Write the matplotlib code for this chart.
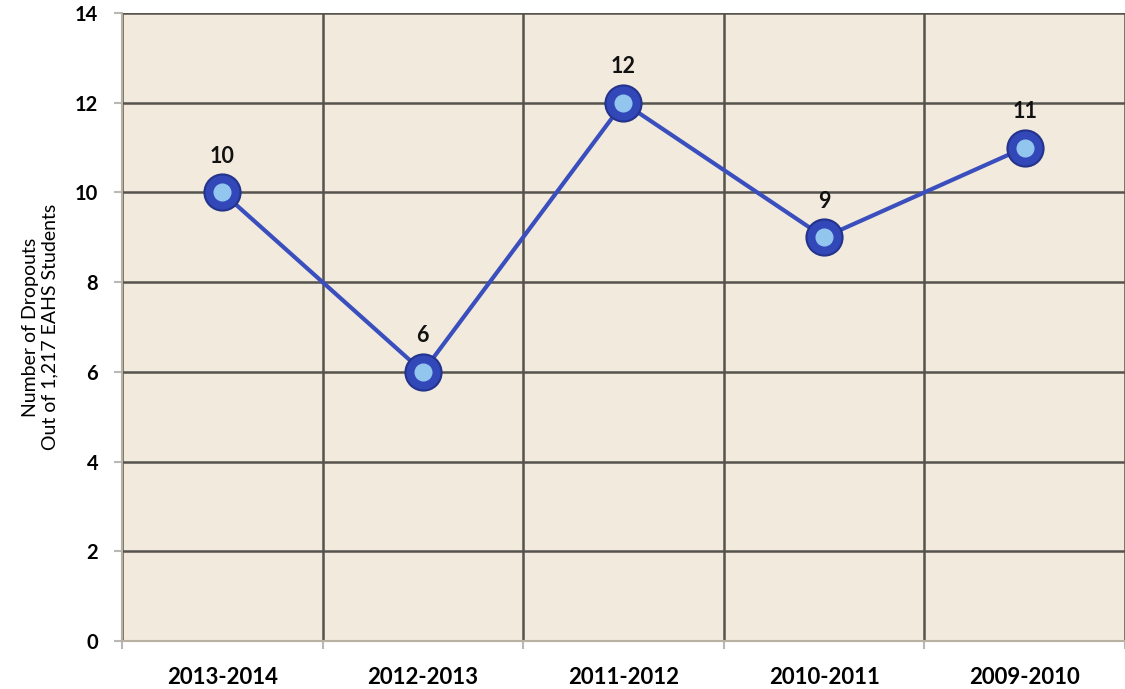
import matplotlib.pyplot as plt
import numpy as np

YEARS = ["2013-2014", "2012-2013", "2011-2012", "2010-2011", "2009-2010"]
DROPOUTS = [10, 6, 12, 9, 11]
Y_TICKS = [0, 2, 4, 6, 8, 10, 12, 14]

plt.rcParams["font.family"] = ["Lato", "DejaVu Sans"]

fig = plt.figure(figsize=(11.25, 6.89), dpi=100)
ax = fig.add_axes([0.1084, 0.0697, 0.8916, 0.9115])

ax.set_facecolor("#f2ebdd")
x = np.arange(len(YEARS))

ax.plot(x, DROPOUTS, color="#3a4fbd", lw=3, zorder=3)
ax.plot(x, DROPOUTS, "o", ms=26, mfc="#3247b8", mec="#24338c", mew=1.5, zorder=4)
ax.plot(x, DROPOUTS, "o", ms=12, mfc="#92c6ef", mec="#92c6ef", zorder=5)

for xi, v in zip(x, DROPOUTS):
    ax.annotate(str(v), (xi, v), xytext=(0, 26), textcoords="offset points",
                ha="center", va="center", fontsize=15.5, fontweight="bold", color="#111111")

ax.set_xlim(-0.5, len(YEARS) - 0.5)
ax.set_ylim(0, 14)
ax.set_yticks(Y_TICKS)
ax.set_yticklabels([str(t) for t in Y_TICKS], fontsize=14.5, fontweight="bold")
ax.set_xticks(x)
ax.set_xticklabels(YEARS, fontsize=16, fontweight="bold")
ax.set_xticks(np.arange(len(YEARS) + 1) - 0.5, minor=True)

ax.grid(axis="y", color="#55534d", lw=1.8, zorder=1)
ax.grid(axis="x", which="minor", color="#55534d", lw=1.8, zorder=1)
ax.tick_params(axis="x", which="major", length=0, pad=19)
ax.tick_params(axis="x", which="minor", length=6, color="#b8b8b8", width=1.5)
ax.tick_params(axis="y", length=6, color="#b8b8b8", width=1.5, pad=11)

for side in ["top", "right"]:
    ax.spines[side].set_visible(False)
ax.spines["left"].set_color("#b8b0a0")
ax.spines["bottom"].set_color("#b8b0a0")
ax.spines["left"].set_linewidth(1.5)
ax.spines["bottom"].set_linewidth(1.5)

ax.set_ylabel("Number of Dropouts\nOut of 1,217 EAHS Students", fontsize=14, labelpad=12)

plt.savefig("out.png", dpi=100)
